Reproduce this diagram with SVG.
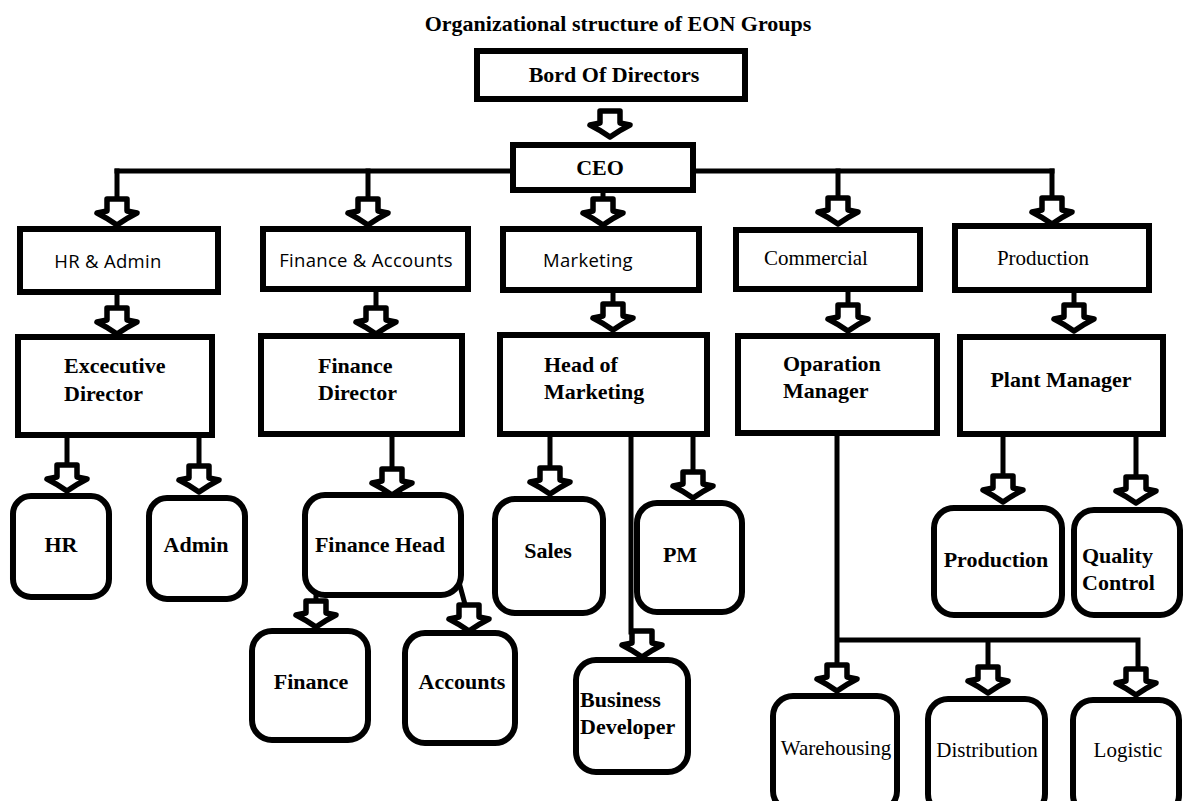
<svg xmlns="http://www.w3.org/2000/svg" xmlns:xlink="http://www.w3.org/1999/xlink" width="1186" height="801" viewBox="0 0 1186 801">
<style>
.box{fill:#fff;stroke:#000;stroke-width:6}
.rbox{fill:#fff;stroke:#000;stroke-width:6}
.ln{fill:none;stroke:#000;stroke-width:5;stroke-linecap:square}
.tb{font-family:"Liberation Serif",serif;font-weight:bold;font-size:22px;fill:#000}
.tr{font-family:"Liberation Serif",serif;font-size:21px;fill:#000}
.tc{font-family:"Open Sans","Liberation Sans",sans-serif;font-size:18.5px;fill:#000;letter-spacing:0.3px}
.mid{text-anchor:middle}
</style>
<defs>
<path id="arr" d="M-10,1 L10,1 L10,13 L20,15 Q10,20 0,27 Q-10,20 -20,15 L-10,13 Z" fill="#fff" stroke="#000" stroke-width="5.5" stroke-linejoin="round"/>
</defs>
<rect width="1186" height="801" fill="#fff"/>
<text class="tb mid" x="618" y="31" font-size="21">Organizational structure of EON Groups</text>

<g id="connectors">
<path class="ln" d="M117,171 H513 M693,171 H1052"/>
<path class="ln" d="M117,171 V199 M368,171 V199 M603,190 V199 M838,171 V198 M1052,171 V198"/>
<use href="#arr" transform="translate(610,110)"/>
<use href="#arr" transform="translate(117,198)"/>
<use href="#arr" transform="translate(368,198)"/>
<use href="#arr" transform="translate(603,198)"/>
<use href="#arr" transform="translate(838,197)"/>
<use href="#arr" transform="translate(1052,197)"/>
<path class="ln" d="M117,292 V308 M376,292 V308 M613,290 V304 M848,289 V304 M1074,290 V304"/>
<use href="#arr" transform="translate(117,307)"/>
<use href="#arr" transform="translate(376,307)"/>
<use href="#arr" transform="translate(613,303)"/>
<use href="#arr" transform="translate(848,304)"/>
<use href="#arr" transform="translate(1074,304)"/>
<path class="ln" d="M67,437 V464 M199,437 V464 M392,437 V469 M550,437 V467 M693,437 V469 M1003,437 V475 M1136,437 V475"/>
<use href="#arr" transform="translate(67,464)"/>
<use href="#arr" transform="translate(199,465)"/>
<use href="#arr" transform="translate(392,468)"/>
<use href="#arr" transform="translate(550,467)"/>
<use href="#arr" transform="translate(693,471)"/>
<use href="#arr" transform="translate(1003,475)"/>
<use href="#arr" transform="translate(1136,476)"/>
<path class="ln" d="M631,437 V632 M316,590 V601 M460,586 L466,608"/>
<use href="#arr" transform="translate(642,630)"/>
<use href="#arr" transform="translate(316,600)"/>
<use href="#arr" transform="translate(469,604)"/>
<path class="ln" d="M837,437 V664 M837,640 H1138 V668 M988,640 V666"/>
<use href="#arr" transform="translate(837,664)"/>
<use href="#arr" transform="translate(988,666)"/>
<use href="#arr" transform="translate(1136,668)"/>
</g>

<g id="board"><rect class="box" x="477" y="51" width="268" height="48"/><text class="tb mid" x="614" y="82">Bord Of Directors</text></g>
<g id="ceo"><rect class="box" x="513" y="145" width="180" height="45"/><text class="tb mid" x="600" y="175">CEO</text></g>

<g id="hr-admin"><rect class="box" x="20" y="229" width="198" height="63"/><text class="tc mid" x="108" y="268">HR &amp; Admin</text></g>
<g id="finance-accounts"><rect class="box" x="263" y="229" width="205" height="60"/><text class="tc mid" x="366" y="267">Finance &amp; Accounts</text></g>
<g id="marketing"><rect class="box" x="503" y="229" width="196" height="61"/><text class="tc mid" x="588" y="267">Marketing</text></g>
<g id="commercial"><rect class="box" x="736" y="230" width="184" height="59"/><text class="tr mid" x="816" y="265">Commercial</text></g>
<g id="production-dept"><rect class="box" x="955" y="226" width="194" height="64"/><text class="tr mid" x="1043" y="265">Production</text></g>

<g id="exec-director"><rect class="box" x="18" y="337" width="194" height="98"/><text class="tb" x="64" y="373">Excecutive</text><text class="tb" x="64" y="401">Director</text></g>
<g id="finance-director"><rect class="box" x="261" y="336" width="201" height="98"/><text class="tb" x="318" y="373">Finance</text><text class="tb" x="318" y="400">Director</text></g>
<g id="head-marketing"><rect class="box" x="500" y="335" width="207" height="99"/><text class="tb" x="544" y="372">Head of</text><text class="tb" x="544" y="399">Marketing</text></g>
<g id="operation-manager"><rect class="box" x="738" y="336" width="199" height="97"/><text class="tb" x="783" y="371">Oparation</text><text class="tb" x="783" y="398">Manager</text></g>
<g id="plant-manager"><rect class="box" x="960" y="337" width="203" height="97"/><text class="tb mid" x="1061" y="387">Plant Manager</text></g>

<g id="hr"><rect class="rbox" x="13" y="496" width="96" height="101" rx="18"/><text class="tb mid" x="61" y="552">HR</text></g>
<g id="admin"><rect class="rbox" x="149" y="498" width="96" height="101" rx="18"/><text class="tb mid" x="196" y="552">Admin</text></g>
<g id="finance-head"><rect class="rbox" x="305" y="495" width="156" height="100" rx="20"/><text class="tb mid" x="380" y="552">Finance Head</text></g>
<g id="finance"><rect class="rbox" x="252" y="631" width="116" height="109" rx="20"/><text class="tb mid" x="311" y="689">Finance</text></g>
<g id="accounts"><rect class="rbox" x="405" y="633" width="110" height="110" rx="20"/><text class="tb mid" x="462" y="689">Accounts</text></g>
<g id="sales"><rect class="rbox" x="495" y="499" width="108" height="114" rx="20"/><text class="tb mid" x="548" y="558">Sales</text></g>
<g id="pm"><rect class="rbox" x="637" y="503" width="105" height="109" rx="20"/><text class="tb mid" x="680" y="562">PM</text></g>
<g id="business-developer"><rect class="rbox" x="576" y="660" width="112" height="112" rx="20"/><text class="tb" x="580" y="707">Business</text><text class="tb" x="580" y="734">Developer</text></g>
<g id="production"><rect class="rbox" x="934" y="508" width="128" height="107" rx="20"/><text class="tb mid" x="996" y="567">Production</text></g>
<g id="quality-control"><rect class="rbox" x="1074" y="510" width="106" height="105" rx="20"/><text class="tb" x="1082" y="563">Quality</text><text class="tb" x="1082" y="590">Control</text></g>
<g id="warehousing"><rect class="rbox" x="773" y="696" width="124" height="115" rx="20"/><text class="tr mid" x="836" y="755">Warehousing</text></g>
<g id="distribution"><rect class="rbox" x="928" y="699" width="117" height="115" rx="20"/><text class="tr mid" x="987" y="757">Distribution</text></g>
<g id="logistic"><rect class="rbox" x="1073" y="700" width="106" height="115" rx="20"/><text class="tr mid" x="1128" y="757">Logistic</text></g>
</svg>
